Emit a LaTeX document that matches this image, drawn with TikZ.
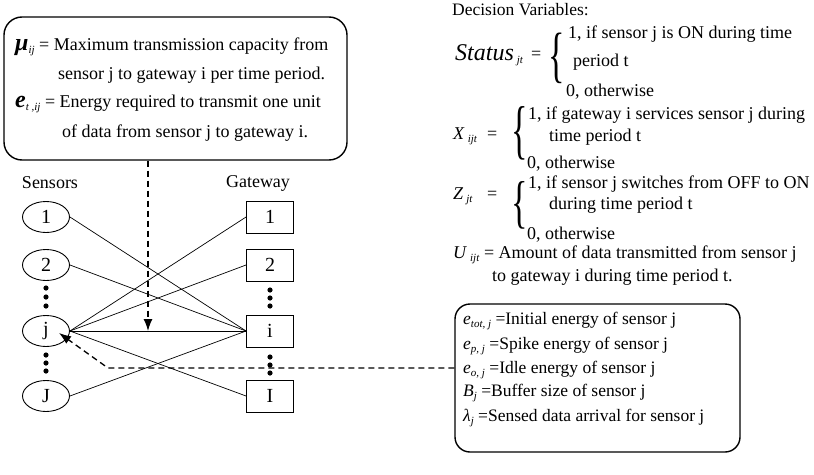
\documentclass[tikz,border=0pt]{standalone}
\usepackage{fontspec}
\setmainfont{Liberation Serif}
\usetikzlibrary{shapes.geometric,arrows.meta}
\newcommand{\sbs}[1]{\raisebox{-0.45ex}{\fontsize{11}{11}\selectfont\textit{#1}}}
\newcommand{\bigital}[1]{{\fontsize{24}{24}\selectfont\bfseries\itshape #1}}
\newcommand{\tallbrace}[1]{\scalebox{1.9}[#1]{\fontsize{18}{18}\selectfont\{}}
\begin{document}
\begin{tikzpicture}[x=1pt,y=-1pt,
  txt/.style={inner sep=0pt, anchor=base west, font=\fontsize{18}{20}\selectfont},
  rtxt/.style={inner sep=0pt, anchor=base west, font=\fontsize{17.5}{19}\selectfont},
  lbl/.style={inner sep=0pt, font=\fontsize{18}{20}\selectfont},
  sensor/.style={ellipse, draw, line width=0.9pt, minimum width=47pt, minimum height=31pt, inner sep=0pt, font=\fontsize{20}{20}\selectfont},
  gate/.style={rectangle, draw, line width=0.9pt, minimum width=47pt, minimum height=32pt, inner sep=0pt, font=\fontsize{20}{20}\selectfont},
  link/.style={line width=0.7pt},
  dashedarrow/.style={line width=1.3pt, dash pattern=on 6pt off 4pt, -{Latex[length=12pt,width=9pt]}},
  rbox/.style={draw, line width=1.4pt, rounded corners=18pt, inner sep=0pt},
  bracenode/.style={inner sep=0pt}]
\useasboundingbox (0,0) rectangle (814,474);

% ---------- top definition box ----------
\node[rbox, minimum width=343pt, minimum height=143pt] (defs) at (175.5,88.5) {};
\node[txt] (d1) at (15,50) {\bigital{μ}\sbs{ij} = Maximum transmission capacity from};
\node[txt] (d2) at (58,79) {sensor j to gateway i per time period.};
\node[txt] (d3) at (15,107) {\bigital{e}\sbs{t ,ij} = Energy required to transmit one unit};
\node[txt] (d4) at (62,137) {of data from sensor j to gateway i.};

% ---------- column labels ----------
\node[lbl] (slbl) at (50,183) {Sensors};
\node[lbl] (glbl) at (258,183) {Gateway};

% ---------- sensors ----------
\node[sensor] (s1) at (46,217) {1};
\node[sensor] (s2) at (46,265) {2};
\node[sensor] (sj) at (46,331) {j};
\node[sensor] (sJ) at (46,396) {J};

% ---------- gateways ----------
\node[gate] (g1) at (270,217) {1};
\node[gate] (g2) at (270,265) {2};
\node[gate] (gi) at (270,331) {i};
\node[gate] (gI) at (270,396) {I};

% ---------- dots ----------
\foreach \y in {288,297,306,355,363,371} {\fill (46,\y) circle (2.6pt);}
\foreach \y in {290,298,306,357,365,373} {\fill (270,\y) circle (2.6pt);}

% ---------- links ----------
\draw[link] (s1.east) -- (gi.west);
\draw[link] (s2.east) -- (gi.west);
\draw[link] (sj.east) -- (g1.west);
\draw[link] (sj.east) -- (g2.west);
\draw[link] (sj.east) -- (gi.west);
\draw[link] (sj.east) -- (gI.west);
\draw[link] (sJ.east) -- (gi.west);

% ---------- parameter box ----------
\node[rbox, rounded corners=15pt, minimum width=285pt, minimum height=148pt] (params) at (597.5,378) {};
\node[rtxt] (p1) at (463,324) {\textit{e}\sbs{tot, j} =Initial energy of sensor j};
\node[rtxt] (p2) at (463,349) {\textit{e}\sbs{p, j} =Spike energy of sensor j};
\node[rtxt] (p3) at (463,373) {\textit{e}\sbs{o, j} =Idle energy of sensor j};
\node[rtxt] (p4) at (463,396) {\textit{B}\sbs{j} =Buffer size of sensor j};
\node[rtxt] (p5) at (463,421) {\textit{λ}\sbs{j} =Sensed data arrival for sensor j};

% ---------- dashed connectors ----------
\coordinate (droptip) at (148,331);
\draw[dashedarrow] (defs.south -| droptip) -- (droptip);
\coordinate (bend) at (108,368);
\draw[dashedarrow] (params.west |- bend) -- (bend) -- ([shift={(13,2)}]sj.center);

% ---------- decision variables ----------
\node[rtxt] (dvh) at (452,15) {Decision Variables:};

\node[txt] (st) at (455,60) {{\fontsize{24}{24}\selectfont\itshape Status}\,\sbs{jt}};
\node[txt] (steq) at (531,59) {=};
\node[bracenode] (stbr) at (557,58) {\tallbrace{3.4}};
\node[txt] (st1) at (568,38) {1, if sensor j is ON during time};
\node[txt] (st2) at (573,66) {period t};
\node[txt] (st3) at (566,96) {0, otherwise};

\node[txt] (xv) at (453,139) {\textit{X}\,\sbs{ijt}};
\node[txt] (xeq) at (487,139) {=};
\node[bracenode] (xbr) at (520,133) {\tallbrace{3.6}};
\node[txt] (x1) at (528,119) {1, if gateway i services sensor j during};
\node[txt] (x2) at (549,141) {time period t};
\node[txt] (x3) at (527,168) {0, otherwise};

\node[txt] (zv) at (453,199) {\textit{Z}\,\sbs{jt}};
\node[txt] (zeq) at (487,199) {=};
\node[bracenode] (zbr) at (520,205) {\tallbrace{3.2}};
\node[txt] (z1) at (528,188) {1, if sensor j switches from OFF to ON};
\node[txt] (z2) at (549,209) {during time period t};
\node[txt] (z3) at (527,239) {0, otherwise};

\node[txt] (uv) at (453,258) {\textit{U}\,\sbs{ijt} = Amount of data transmitted from sensor j};
\node[txt] (u2) at (492,281) {to gateway i during time period t.};
\end{tikzpicture}
\end{document}
